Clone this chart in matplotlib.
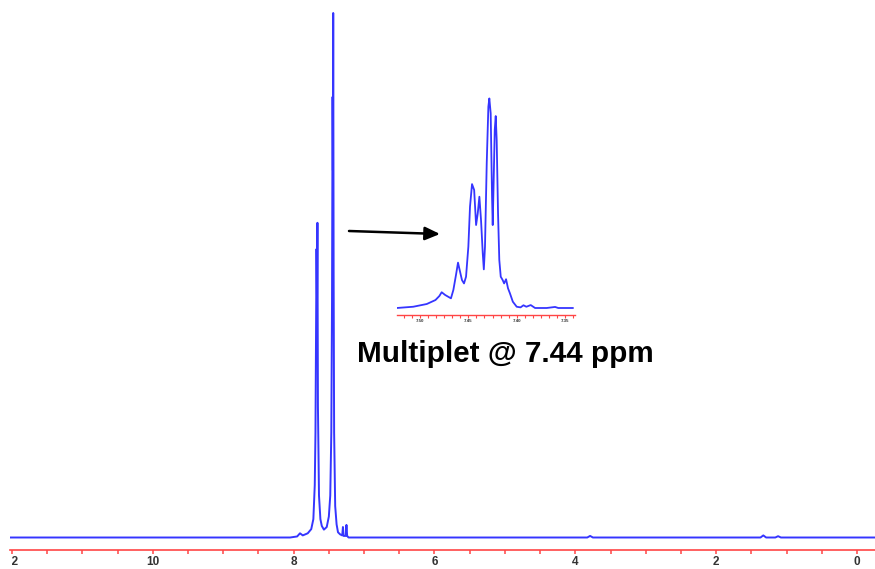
import matplotlib
matplotlib.use("Agg")
import matplotlib.pyplot as plt
from matplotlib.ticker import MultipleLocator, FixedLocator
from matplotlib.transforms import Bbox, TransformedBbox

# ---------------- data ----------------
# full spectrum: chemical shift (ppm) and relative intensity (%)
main_ppm = [12.03, 8.05, 7.95, 7.91, 7.87, 7.80, 7.75, 7.72, 7.70, 7.69, 7.675,
            7.668, 7.662, 7.655, 7.64, 7.62, 7.60, 7.57, 7.53, 7.50, 7.48, 7.465,
            7.455, 7.447, 7.442, 7.438, 7.432, 7.425, 7.41, 7.39, 7.37, 7.34,
            7.31, 7.30, 7.29, 7.26, 7.25, 7.24, 7.22, 7.15,
            3.83, 3.79, 3.75, 1.37, 1.33, 1.29, 1.16, 1.12, 1.08, -0.26]
main_int = [0.0, 0.0, 0.2, 0.8, 0.4, 0.8, 1.6, 3.5, 10.0, 20.0, 55.0,
            45.0, 60.0, 25.0, 8.0, 3.5, 2.2, 1.5, 2.0, 4.0, 8.0, 20.0,
            45.0, 84.0, 70.0, 100.0, 50.0, 20.0, 6.0, 2.5, 1.0, 0.6,
            0.4, 2.0, 0.3, 0.3, 2.4, 0.3, 0.0, 0.0,
            0.0, 0.3, 0.0, 0.0, 0.4, 0.0, 0.0, 0.25, 0.0, 0.0]
main_ticks = [12, 10, 8, 6, 4, 2, 0]
main_tick_labels = ["12", "10", "8", "6", "4", "2", "0"]

# inset: expansion of the multiplet
inset_ppm = [7.524, 7.507, 7.493, 7.484, 7.480, 7.4776, 7.474, 7.471, 7.468,
             7.4655, 7.4628, 7.4607, 7.4586, 7.4566, 7.4545, 7.4524, 7.450,
             7.4483, 7.4462, 7.444, 7.442, 7.4403, 7.4386, 7.4369, 7.4351,
             7.434, 7.4328, 7.431, 7.4293, 7.4283, 7.4269, 7.4255, 7.4248,
             7.4238, 7.4227, 7.4217, 7.4207, 7.4193, 7.418, 7.4165, 7.4145,
             7.413, 7.411, 7.409, 7.407, 7.404, 7.400, 7.396, 7.393, 7.390,
             7.3855, 7.381, 7.369, 7.3603, 7.357, 7.342]
inset_int = [0.0, 0.6, 1.9, 3.8, 5.7, 7.5, 6.2, 5.4, 4.6,
             8.6, 15.7, 21.6, 17.3, 13.3, 11.7, 14.9, 29.2,
             48.2, 59.0, 56.2, 39.5, 45.0, 53.0, 41.9, 26.0,
             18.4, 29.2, 68.9, 95.9, 99.8, 92.7, 53.0, 39.5,
             61.0, 84.8, 91.4, 80.0, 45.0, 22.9, 14.9, 13.3,
             11.7, 13.7, 9.4, 7.0, 3.0, 0.6, 0.3, 1.3, 0.6,
             1.4, 0.0, 0.0, 0.5, 0.0, 0.0]
inset_ticks = [7.50, 7.45, 7.40, 7.35]
inset_tick_labels = ["7.50", "7.45", "7.40", "7.35"]

annotation = "Multiplet @ 7.44 ppm"

# ---------------- styling ----------------
BLUE = "#3535ff"
RED = "#ff4545"
GRAY = "#333333"
W, H = 875, 569

plt.rcParams["font.family"] = ["Liberation Sans", "DejaVu Sans"]
fig = plt.figure(figsize=(W / 100, H / 100), dpi=100)
fig.patch.set_facecolor("white")


def px_axes(left, top, right, bottom):
    return fig.add_axes([left / W, 1 - bottom / H, (right - left) / W, (bottom - top) / H])


def style_axis(ax, lw, ticklen, tickw):
    for s in ("top", "left", "right"):
        ax.spines[s].set_visible(False)
    ax.spines["bottom"].set_color(RED)
    ax.spines["bottom"].set_linewidth(lw)
    ax.set_yticks([])
    ax.patch.set_alpha(0)
    ax.tick_params(axis="x", which="both", direction="out", color=RED,
                   length=ticklen, width=tickw, colors=GRAY)
    ax.tick_params(axis="x", which="both", color=RED)


# main spectrum
ax = px_axes(10, 0, 875, 549.5)
ax.plot(main_ppm, main_int, color=BLUE, lw=1.4)
ax.set_xlim(12.028, -0.256)
ax.set_ylim(-12 / 5.245, (549.5 - 12) / 5.245)
style_axis(ax, 1.2, 3.2, 1.1)
ax.xaxis.set_major_locator(FixedLocator(main_ticks))
ax.set_xticklabels(main_tick_labels, fontsize=8.5, fontweight="bold", color=GRAY)
ax.xaxis.set_minor_locator(MultipleLocator(0.5))
ax.tick_params(axis="x", which="major", pad=1.5)

# inset
axi = px_axes(397, 90, 575, 315)
axi.plot(inset_ppm, inset_int, color=BLUE, lw=1.3)
axi.set_xlim(7.5238, 7.3397)
axi.set_ylim(-7 / 2.1, (225 - 7) / 2.1)
style_axis(axi, 1.0, 1.8, 0.8)
axi.xaxis.set_major_locator(FixedLocator(inset_ticks))
axi.set_xticklabels(inset_tick_labels, fontsize=3.2, fontweight="bold", color=GRAY)
axi.xaxis.set_minor_locator(MultipleLocator(0.05 / 6))
axi.tick_params(axis="x", which="major", pad=0.8)

# annotation text and arrow
fig.text(357 / W, 1 - 361.7 / H, annotation, fontsize=21.3, fontweight="bold",
         family=["Liberation Sans", "DejaVu Sans"], ha="left", va="baseline", color="black")
ax.annotate("", xy=(440, H - 234), xytext=(349, H - 231),
            xycoords="figure pixels", textcoords="figure pixels",
            arrowprops=dict(arrowstyle="-|>,head_length=0.9,head_width=0.4",
                            lw=1.8, color="black", shrinkA=0, shrinkB=0),
            annotation_clip=False)

# the left edge of the original picture cuts off part of the first tick label
clip = TransformedBbox(Bbox([[11.5 / W, 0], [1, 1]]), fig.transFigure)
fig.canvas.draw()
for lab in ax.get_xticklabels():
    lab.set_clip_on(True)
    lab.set_clip_box(clip)

fig.savefig("out.png", dpi=100, facecolor="white")
